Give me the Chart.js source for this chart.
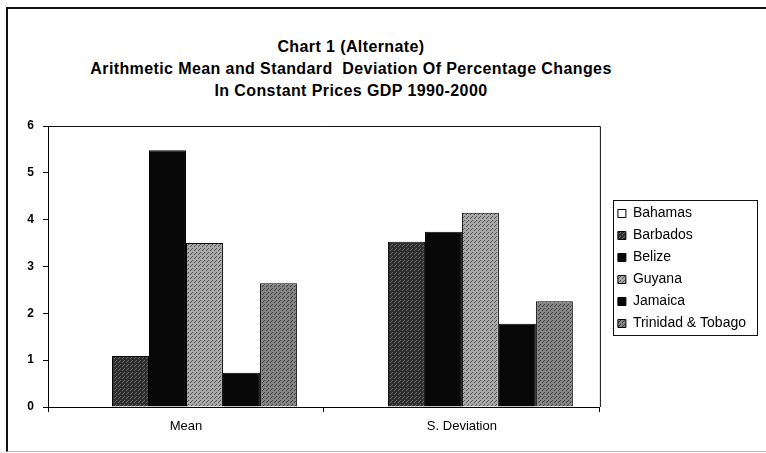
<!DOCTYPE html>
<html lang="en">
<head>
  <meta charset="UTF-8">
  <title>Chart 1 (Alternate)</title>
  <style>
    * { box-sizing: border-box; }
    body { margin: 0; padding: 0; width: 766px; height: 453px; background: #fff; overflow: hidden; font-family: Arial, "Liberation Sans", sans-serif; }
    .frame {
      position: absolute; left: 6px; top: 7px; width: 790px; height: 445px;
      border-left: 2px solid #111; border-top: 2px solid #111; border-bottom: 1px solid #bbb;
    }
    .chart-title {
      position: absolute; left: 0; top: 36px; width: 702px;
      text-align: center; font-weight: bold; font-size: 16px; letter-spacing: 0.4px; line-height: 22px; color: #000;
    }
    .chart-box { position: absolute; left: 0; top: 0; width: 766px; height: 453px; }
  </style>
</head>
<body>

<div class="frame"></div>
<div class="chart-title">
  Chart 1 (Alternate)<br>
  Arithmetic Mean and Standard&nbsp; Deviation Of Percentage Changes<br>
  In Constant Prices GDP 1990-2000
</div>
<div class="chart-box">
  <canvas id="gdpChart" width="766" height="453"></canvas>
</div>

<script src="https://cdn.jsdelivr.net/npm/chart.js"></script>
<script>
  // values
  const categories = ['Mean', 'S. Deviation'];
  const countries = ['Bahamas', 'Barbados', 'Belize', 'Guyana', 'Jamaica', 'Trinidad & Tobago'];
  const bahamas  = [0, 0];
  const barbados = [1.09, 3.53];
  const belize   = [5.48, 3.74];
  const guyana   = [3.50, 4.15];
  const jamaica  = [0.73, 1.78];
  const trinidad = [2.64, 2.26];
  const yTicks = [0, 1, 2, 3, 4, 5, 6];

  const FONT = 'Arial, "Liberation Sans", sans-serif';

  // small dithered fills to mimic the printed hatching
  function speckle(base, dot) {
    const c = document.createElement('canvas');
    c.width = 4; c.height = 4;
    const g = c.getContext('2d');
    g.fillStyle = base;
    g.fillRect(0, 0, 4, 4);
    g.fillStyle = dot;
    g.fillRect(0, 0, 1, 1);
    g.fillRect(2, 2, 1, 1);
    g.fillRect(3, 1, 1, 1);
    return g.createPattern(c, 'repeat');
  }

  const fills = [
    '#ffffff',
    speckle('#2e2e2e', '#6a6a6a'),
    '#080808',
    speckle('#a8a8a8', '#555555'),
    '#080808',
    speckle('#858585', '#3a3a3a')
  ];
  const seriesData = [bahamas, barbados, belize, guyana, jamaica, trinidad];

  // plot-area box, legend nudged away from the plot, border round the legend
  const frames = {
    id: 'frames',
    afterLayout(chart) {
      const lg = chart.legend;
      lg.left += 10; lg.right += 10;
      lg.top += 2; lg.bottom += 2;
    },
    afterDatasetsDraw(chart) {
      const a = chart.chartArea;
      const ctx = chart.ctx;
      ctx.save();
      ctx.strokeStyle = '#111';
      ctx.lineWidth = 1;
      ctx.beginPath();
      ctx.moveTo(a.left, a.top + 0.5);
      ctx.lineTo(a.right + 0.5, a.top + 0.5);
      ctx.lineTo(a.right + 0.5, a.bottom);
      ctx.stroke();
      ctx.restore();
    },
    afterDraw(chart) {
      const boxes = chart.legend.legendHitBoxes;
      if (!boxes || !boxes.length) return;
      let l = Infinity, t = Infinity, r = -Infinity, b = -Infinity;
      boxes.forEach(h => {
        l = Math.min(l, h.left); t = Math.min(t, h.top);
        r = Math.max(r, h.left + h.width); b = Math.max(b, h.top + h.height);
      });
      const ctx = chart.ctx;
      ctx.save();
      ctx.strokeStyle = '#111';
      ctx.lineWidth = 1;
      ctx.strokeRect(Math.round(l - 5) + 0.5, Math.round(t - 7) + 0.5, Math.round(r - l + 16), Math.round(b - t + 11));
      ctx.restore();
    }
  };

  new Chart(document.getElementById('gdpChart'), {
    type: 'bar',
    data: {
      labels: categories,
      datasets: countries.map((name, i) => ({
        label: name,
        data: seriesData[i],
        backgroundColor: fills[i],
        borderColor: '#000',
        borderWidth: 1,
        borderSkipped: 'bottom',
        categoryPercentage: 0.804,
        barPercentage: 1.0
      }))
    },
    options: {
      responsive: false,
      animation: false,
      layout: { padding: { top: 126, bottom: 16, left: 0, right: 20 } },
      plugins: {
        title: { display: false },
        tooltip: { enabled: false },
        legend: {
          position: 'right',
          fullSize: false,
          labels: {
            boxWidth: 8,
            boxHeight: 8,
            padding: 8,
            color: '#000',
            font: { family: FONT, size: 14 }
          }
        }
      },
      scales: {
        x: {
          grid: { display: true, drawOnChartArea: false, tickLength: 5, color: '#000' },
          border: { color: '#000' },
          ticks: { color: '#000', padding: 7, font: { family: FONT, size: 13 } },
          afterFit: s => { s.height = 30; }
        },
        y: {
          min: 0,
          max: 6,
          afterBuildTicks: s => { s.ticks = yTicks.map(v => ({ value: v })); },
          grid: { display: true, drawOnChartArea: false, tickLength: 5, color: '#000' },
          border: { color: '#000' },
          ticks: { color: '#000', padding: 9, font: { family: FONT, size: 12, weight: 'bold' } },
          afterFit: s => { s.width = 48; }
        }
      }
    },
    plugins: [frames]
  });
</script>

</body>
</html>
